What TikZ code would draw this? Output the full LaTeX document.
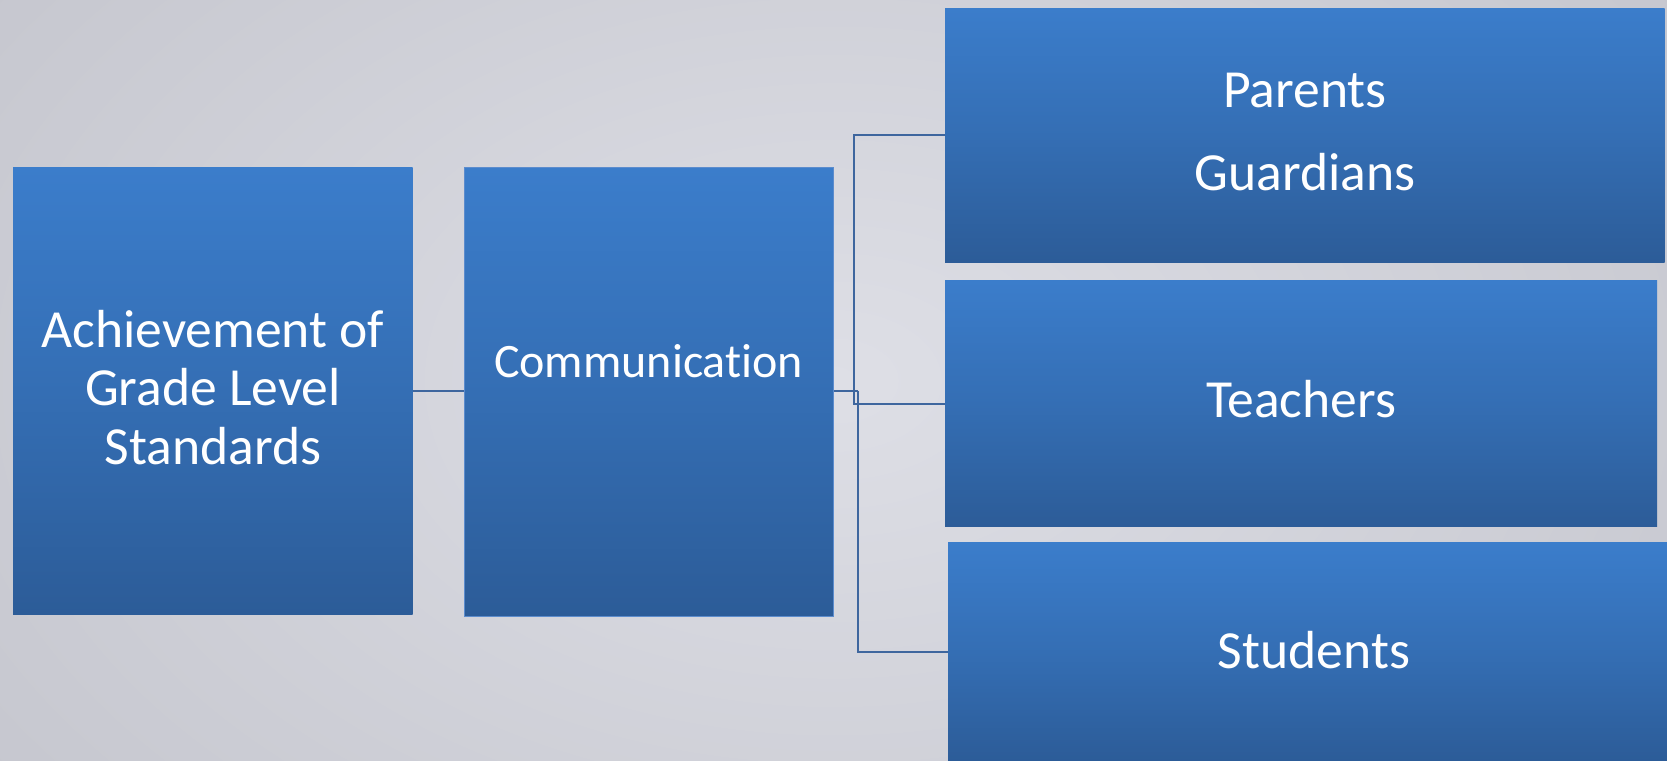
\documentclass[tikz,border=0pt]{standalone}
\usepackage{fontspec}
\setmainfont[Ligatures={NoCommon}]{Carlito}
\usetikzlibrary{calc}

\definecolor{bgLight}{RGB}{222,223,230}
\definecolor{bgDark}{RGB}{198,199,207}
\definecolor{boxTop}{RGB}{59,125,203}
\definecolor{boxBot}{RGB}{44,92,152}
\definecolor{boxEdge}{RGB}{92,140,205}
\definecolor{linkCol}{RGB}{62,102,158}

\tikzset{
  bluebox/.style={rectangle, inner sep=0pt, top color=boxTop, bottom color=boxBot,
    middle color=boxTop!55!boxBot},
  boxtext/.style={text=white, inner sep=0pt, align=center, anchor=base},
  bigfont/.style={font=\fontsize{26.8pt}{30pt}\selectfont},
  midfont/.style={font=\fontsize{24pt}{28pt}\selectfont},
  link/.style={draw=linkCol, line width=1pt}
}

\begin{document}
\begin{tikzpicture}[x=0.5pt, y=-0.5pt]
  % page background
  \useasboundingbox (0,0) rectangle (1667,761);
  \shade[inner color=bgLight, outer color=bgDark] (-200,-300) rectangle (1867,1061);

  % boxes
  \node[bluebox, minimum width=199.85pt, minimum height=223.85pt] (ach) at (212.85,390.85) {};
  \node[bluebox, draw=boxEdge, line width=0.75pt, minimum width=184.5pt, minimum height=224.5pt] (com) at (648.8,392) {};
  \node[bluebox, minimum width=359.85pt, minimum height=127pt] (par) at (1304.85,135) {};
  \node[bluebox, minimum width=356pt, minimum height=123pt] (tea) at (1301,403.5) {};
  \node[bluebox, minimum width=359.5pt, minimum height=109.25pt] (stu) at (1307.5,651.75) {};

  % labels
  \node[boxtext, bigfont] (achT1) at (212.85,347.7) {Achievement of};
  \node[boxtext, bigfont] (achT2) at (212.85,405.7) {Grade Level};
  \node[boxtext, bigfont] (achT3) at (212.85,464) {Standards};
  \node[boxtext, midfont] (comT) at (648.6,377.5) {Communication};
  \node[boxtext, bigfont] (parT) at (1305,107.5) {Parents};
  \node[boxtext, bigfont] (guaT) at (1305,190) {Guardians};
  \node[boxtext, bigfont] (teaT) at (1301,417.7) {Teachers};
  \node[boxtext, bigfont] (stuT) at (1314,668.5) {Students};

  % connector junctions
  \coordinate (j1) at (854,391);
  \coordinate (j2) at (858,391);

  % connectors
  \draw[link] (ach.east) -- (ach.east -| com.west);
  \draw[link] (com.east |- j1) -- (j2);
  \draw[link] (j1) |- (par.west);
  \draw[link] (j1) |- (tea.west);
  \draw[link] (j2) |- (stu.west);
\end{tikzpicture}
\end{document}
